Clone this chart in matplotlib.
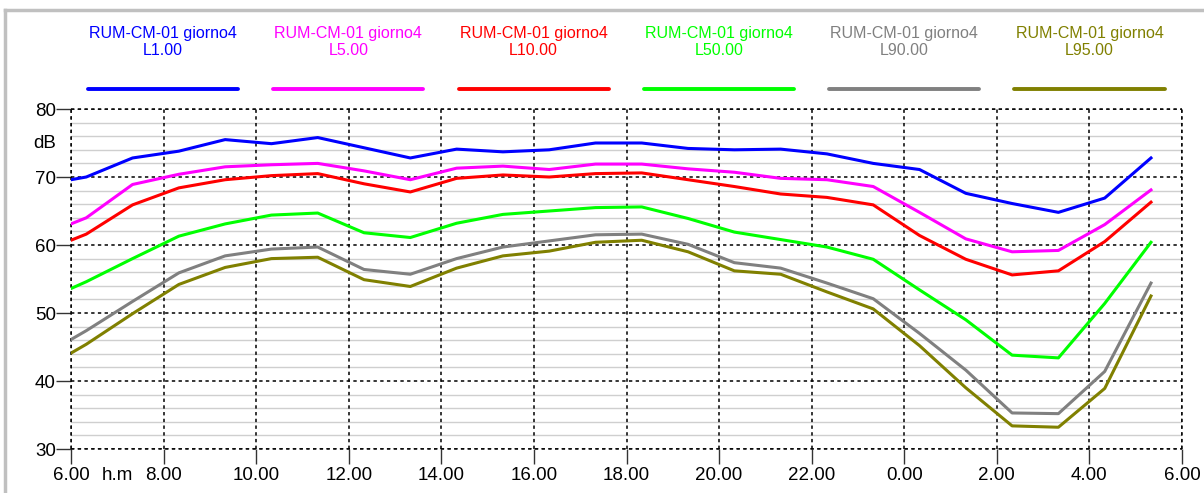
import matplotlib.pyplot as plt
from matplotlib.lines import Line2D

plt.rcParams['font.family'] = ['Liberation Sans', 'DejaVu Sans']

# hours since midnight (values past 24 are the next morning)
hours = [6.0, 6.33, 7.33, 8.33, 9.33, 10.33, 11.33, 12.33, 13.33, 14.33, 15.33,
         16.33, 17.33, 18.33, 19.33, 20.33, 21.33, 22.33, 23.33, 24.33, 25.33,
         26.33, 27.33, 28.33, 29.33]

L1 = [69.6, 70.0, 72.8, 73.8, 75.5, 74.9, 75.8, 74.3, 72.8, 74.1, 73.7, 74.0,
      75.0, 75.0, 74.2, 74.0, 74.1, 73.4, 72.0, 71.1, 67.6, 66.1, 64.8, 66.9, 72.8]
L5 = [63.1, 64.0, 68.9, 70.4, 71.5, 71.8, 72.0, 70.9, 69.6, 71.3, 71.6, 71.1,
      71.9, 71.9, 71.2, 70.7, 69.8, 69.6, 68.6, 64.8, 60.9, 59.0, 59.2, 63.0, 68.1]
L10 = [60.7, 61.6, 65.9, 68.4, 69.6, 70.2, 70.5, 69.0, 67.8, 69.8, 70.3, 70.0,
       70.5, 70.6, 69.6, 68.6, 67.5, 67.0, 65.9, 61.4, 57.9, 55.6, 56.2, 60.5, 66.3]
L50 = [53.6, 54.6, 58.0, 61.3, 63.1, 64.4, 64.7, 61.8, 61.1, 63.2, 64.5, 65.0,
       65.5, 65.6, 63.9, 61.9, 60.8, 59.7, 57.9, 53.4, 49.0, 43.8, 43.4, 51.4, 60.4]
L90 = [46.1, 47.4, 51.7, 55.9, 58.4, 59.4, 59.7, 56.4, 55.7, 58.0, 59.7, 60.6,
       61.5, 61.6, 60.1, 57.4, 56.6, 54.4, 52.1, 47.0, 41.6, 35.3, 35.2, 41.4, 54.4]
L95 = [44.1, 45.4, 49.9, 54.2, 56.7, 58.0, 58.2, 54.9, 53.9, 56.6, 58.4, 59.1,
       60.4, 60.7, 59.0, 56.2, 55.7, 53.1, 50.6, 45.2, 39.0, 33.4, 33.2, 38.9, 52.5]

series = [L1, L5, L10, L50, L90, L95]
names = ['L1.00', 'L5.00', 'L10.00', 'L50.00', 'L90.00', 'L95.00']
colors = ['#0000ff', '#ff00ff', '#ff0000', '#00ff00', '#808080', '#808000']
title = 'RUM-CM-01 giorno4'

xticks = [6, 8, 10, 12, 14, 16, 18, 20, 22, 24, 26, 28, 30]
xlabels = ['6.00', '8.00', '10.00', '12.00', '14.00', '16.00', '18.00', '20.00',
           '22.00', '0.00', '2.00', '4.00', '6.00']
yticks = [30, 40, 50, 60, 70, 80]

fig = plt.figure(figsize=(12.04, 4.93), dpi=100)
ax = fig.add_axes([71 / 1204, 44 / 493, 1111 / 1204, 340 / 493])

# light minor grid every 2 dB
for v in range(32, 80, 2):
    if v % 10:
        ax.axhline(v, color='#cfcfcf', lw=1.0, zorder=1)

ax.set_xlim(6, 30)
ax.set_ylim(30, 80)
ax.set_xticks(xticks)
ax.set_xticklabels(xlabels)
ax.set_yticks(yticks)
ax.grid(True, which='major', color='black', lw=1.1, linestyle=(0, (2.2, 2.2)), zorder=2)
ax.tick_params(axis='both', length=11, width=1, color='#333333', labelsize=13.5, pad=2)
ax.tick_params(axis='y', pad=0)
for s in ax.spines.values():
    s.set_visible(False)
# dashed frame lines on the limits
for x in (6, 30):
    ax.axvline(x, color='black', lw=1.1, linestyle=(0, (2.2, 2.2)), clip_on=False, zorder=2)
for y in (30, 80):
    ax.axhline(y, color='black', lw=1.1, linestyle=(0, (2.2, 2.2)), clip_on=False, zorder=2)

for vals, c in zip(series, colors):
    ax.plot(hours, vals, color=c, lw=2.2, zorder=3, solid_joinstyle='round')

fig.text(45 / 1204, 1 - 144 / 493, 'dB', fontsize=13.5, ha='center', va='center')
fig.text(117 / 1204, 1 - 476 / 493, 'h.m', fontsize=13.5, ha='center', va='center')

# legend: text above a line segment, one block per series
for i, (n, c) in enumerate(zip(names, colors)):
    cx = (163 + i * 185.3) / 1204
    fig.text(cx, 1 - 42 / 493, title + '\n' + n, color=c, fontsize=11.5,
             ha='center', va='center', linespacing=1.12)
    fig.add_artist(Line2D([cx - 75 / 1204, cx + 75 / 1204], [1 - 89 / 493] * 2,
                          color=c, lw=2.8, solid_capstyle='round'))

# grey outer frame
fig.add_artist(Line2D([5 / 1204, 5 / 1204], [0, 1 - 10 / 493], color='#c0c0c0', lw=2.5))
fig.add_artist(Line2D([5 / 1204, 1], [1 - 10 / 493, 1 - 10 / 493], color='#c0c0c0', lw=2.5))

fig.savefig('out.png', dpi=100)
